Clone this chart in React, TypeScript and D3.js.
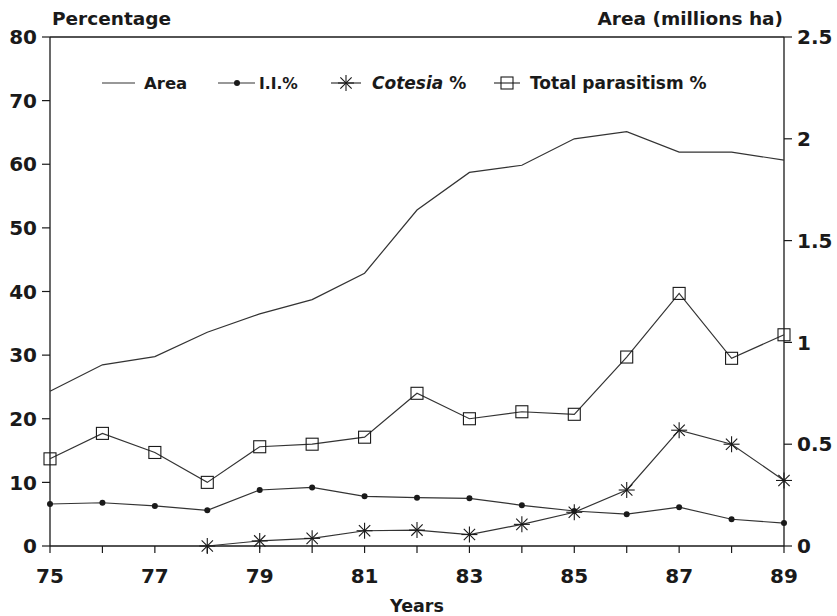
import React from "react";
import * as d3 from "d3";

// years on the x axis
const years = [75, 76, 77, 78, 79, 80, 81, 82, 83, 84, 85, 86, 87, 88, 89];
// area grown, millions ha (right axis)
const area = [0.76, 0.89, 0.93, 1.05, 1.14, 1.21, 1.34, 1.65, 1.835, 1.87, 2.0, 2.035, 1.935, 1.935, 1.895];
// I.I.% (left axis)
const ii = [6.6, 6.8, 6.3, 5.6, 8.8, 9.2, 7.8, 7.6, 7.5, 6.4, 5.5, 5.0, 6.1, 4.2, 3.6];
// Cotesia %, from 1978
const cotesiaYears = [78, 79, 80, 81, 82, 83, 84, 85, 86, 87, 88, 89];
const cotesia = [0, 0.8, 1.2, 2.4, 2.5, 1.8, 3.4, 5.3, 8.8, 18.2, 16.0, 10.3];
// Total parasitism %
const total = [13.7, 17.7, 14.7, 10.0, 15.6, 16.0, 17.1, 24.0, 20.0, 21.1, 20.7, 29.7, 39.7, 29.5, 33.2];

const leftTicks = [0, 10, 20, 30, 40, 50, 60, 70, 80];
const rightTicks = [0, 0.5, 1, 1.5, 2, 2.5];
const rightLabels = ["0", "0.5", "1", "1.5", "2", "2.5"];
const xLabelYears = [75, 77, 79, 81, 83, 85, 87, 89];

const W = 837;
const H = 616;
const margin = { left: 50, right: 53, top: 37, bottom: 70 };

const font = "'DejaVu Sans', sans-serif";
const ink = "#1a1a1a";
const lineInk = "#333";

const Asterisk = ({ x, y, r }: { x: number; y: number; r: number }) => {
  const d = r * Math.SQRT1_2;
  return (
    <g stroke={ink} strokeWidth={1.1}>
      <line x1={x - r} y1={y} x2={x + r} y2={y} />
      <line x1={x} y1={y - r} x2={x} y2={y + r} />
      <line x1={x - d} y1={y - d} x2={x + d} y2={y + d} />
      <line x1={x - d} y1={y + d} x2={x + d} y2={y - d} />
    </g>
  );
};

const Square = ({ x, y, s }: { x: number; y: number; s: number }) => (
  <rect x={x - s / 2} y={y - s / 2} width={s} height={s} fill="none" stroke={ink} strokeWidth={1.1} />
);

const App = () => {
  const x = d3.scaleLinear().domain([75, 89]).range([margin.left, W - margin.right]);
  const yL = d3.scaleLinear().domain([0, 80]).range([H - margin.bottom, margin.top]);
  const yR = d3.scaleLinear().domain([0, 2.5]).range([H - margin.bottom, margin.top]);

  const x0 = x.range()[0];
  const x1 = x.range()[1];
  const y0 = yL.range()[0];
  const yTop = yL.range()[1];

  const areaLine = d3.line<number>().x((_, i) => x(years[i])).y((d) => yR(d));
  const pctLine = d3.line<number>().x((_, i) => x(years[i])).y((d) => yL(d));
  const cotLine = d3.line<number>().x((_, i) => x(cotesiaYears[i])).y((d) => yL(d));

  const legendY = 83;

  return (
    <svg width={W} height={H} style={{ position: "absolute", left: 0, top: 0, background: "#fff" }}>
      <rect width={W} height={H} fill="#fff" />

      {/* frame */}
      <g stroke={ink} strokeWidth={1.3} fill="none">
        <line x1={x0} y1={yTop} x2={x1} y2={yTop} />
        <line x1={x0} y1={yTop} x2={x0} y2={y0} />
        <line x1={x1} y1={yTop} x2={x1} y2={y0} />
        <line x1={x0} y1={y0} x2={x1} y2={y0} />
      </g>

      {/* left axis */}
      {leftTicks.map((t) => (
        <g key={"l" + t}>
          <line x1={x0 - 8} x2={x0} y1={yL(t)} y2={yL(t)} stroke={ink} strokeWidth={1.2} />
          <text x={37} y={yL(t)} dy="0.36em" textAnchor="end" fontFamily={font} fontWeight="bold" fontSize={20} fill={ink}>
            {t}
          </text>
        </g>
      ))}

      {/* right axis */}
      {rightTicks.map((t, i) => (
        <g key={"r" + t}>
          <line x1={x1} x2={x1 + 8} y1={yR(t)} y2={yR(t)} stroke={ink} strokeWidth={1.2} />
          <text x={797} y={yR(t)} dy="0.36em" textAnchor="start" fontFamily={font} fontWeight="bold" fontSize={20} fill={ink}>
            {rightLabels[i]}
          </text>
        </g>
      ))}

      {/* x axis */}
      {years.map((yr) => (
        <line key={"x" + yr} x1={x(yr)} x2={x(yr)} y1={y0} y2={y0 + 7} stroke={ink} strokeWidth={1.2} />
      ))}
      {xLabelYears.map((yr) => (
        <text key={"xl" + yr} x={x(yr)} y={583} textAnchor="middle" fontFamily={font} fontWeight="bold" fontSize={20} fill={ink}>
          {yr}
        </text>
      ))}

      {/* axis titles */}
      <text x={52} y={25} fontFamily={font} fontWeight="bold" fontSize={18.5} fill={ink}>
        Percentage
      </text>
      <text x={783} y={25} textAnchor="end" fontFamily={font} fontWeight="bold" fontSize={18.5} fill={ink}>
        Area (millions ha)
      </text>
      <text x={417} y={612} textAnchor="middle" fontFamily={font} fontWeight="bold" fontSize={17.5} fill={ink}>
        Years
      </text>

      {/* series */}
      <path d={areaLine(area) || ""} fill="none" stroke={lineInk} strokeWidth={1.2} />
      <path d={pctLine(ii) || ""} fill="none" stroke={lineInk} strokeWidth={1.2} />
      {ii.map((v, i) => (
        <circle key={"ii" + i} cx={x(years[i])} cy={yL(v)} r={3} fill={ink} />
      ))}
      <path d={cotLine(cotesia) || ""} fill="none" stroke={lineInk} strokeWidth={1.2} />
      {cotesia.map((v, i) => (
        <Asterisk key={"c" + i} x={x(cotesiaYears[i])} y={yL(v)} r={8} />
      ))}
      <path d={pctLine(total) || ""} fill="none" stroke={lineInk} strokeWidth={1.2} />
      {total.map((v, i) => (
        <Square key={"t" + i} x={x(years[i])} y={yL(v)} s={12} />
      ))}

      {/* legend */}
      <g fontFamily={font} fontWeight="bold" fontSize={16.5} fill={ink}>
        <line x1={102} x2={135} y1={legendY} y2={legendY} stroke={lineInk} strokeWidth={1.2} />
        <text x={144} y={legendY + 6}>Area</text>

        <line x1={218} x2={255} y1={legendY} y2={legendY} stroke={lineInk} strokeWidth={1.2} />
        <circle cx={237} cy={legendY} r={3} fill={ink} />
        <text x={259} y={legendY + 6} fontSize={15.5}>I.I.%</text>

        <line x1={331} x2={361} y1={legendY} y2={legendY} stroke={lineInk} strokeWidth={1.2} />
        <Asterisk x={346} y={legendY} r={8} />
        <text x={372} y={legendY + 6} fontSize={17}>
          <tspan fontStyle="italic">Cotesia</tspan> %
        </text>

        <line x1={494} x2={520} y1={legendY} y2={legendY} stroke={lineInk} strokeWidth={1.2} />
        <Square x={507} y={legendY} s={12} />
        <text x={530} y={legendY + 6} fontSize={17}>Total parasitism %</text>
      </g>
    </svg>
  );
};

export default App;
